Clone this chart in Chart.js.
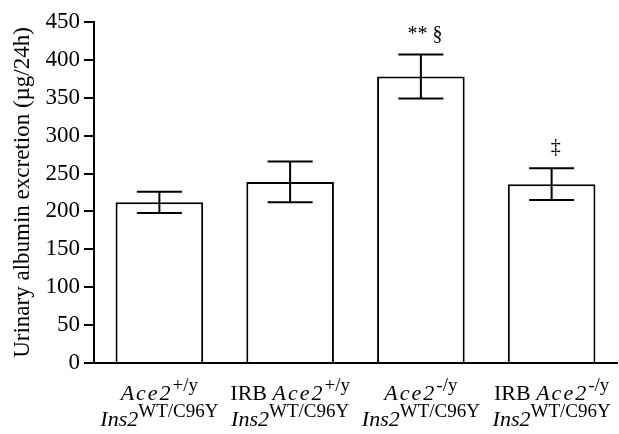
<!DOCTYPE html>
<html>
<head>
<meta charset="utf-8">
<script src="https://cdn.jsdelivr.net/npm/chart.js@4"></script>
<style>
  html, body { margin: 0; padding: 0; background: #fff; }
  #wrap { width: 619px; height: 434px; }
</style>
</head>
<body>
<div id="wrap"><canvas id="albumin"></canvas></div>
<script>
const groups   = ['Ace2 +/y WT', 'IRB Ace2 +/y WT', 'Ace2 -/y WT', 'IRB Ace2 -/y WT'];
const albumin  = [212, 239, 378, 236];
const sem      = [14, 27, 29, 21];
const marks    = ['', '', '** \u00a7', '\u2021'];
const yTicks   = [0, 50, 100, 150, 200, 250, 300, 350, 400, 450];

// each label: two lines of [text, style] pieces (n = normal, i = italic, w = wide italic, s = superscript)
const labelLines = [
    [[['Ace2', 'w'], ['+/y', 's']],                [['Ins2', 'i'], ['WT/C96Y', 's']]],
    [[['IRB ', 'n'], ['Ace2', 'w'], ['+/y', 's']], [['Ins2', 'i'], ['WT/C96Y', 's']]],
    [[['Ace2', 'w'], ['-/y', 's']],                [['Ins2', 'i'], ['WT/C96Y', 's']]],
    [[['IRB ', 'n'], ['Ace2', 'w'], ['-/y', 's']], [['Ins2', 'i'], ['WT/C96Y', 's']]]
];

const serif = "'Liberation Serif', 'Times New Roman', serif";

function setPiece(ctx, style) {
    ctx.letterSpacing = style === 'w' ? '2px' : '0px';
    if (style === 'i' || style === 'w') ctx.font = 'italic 22px ' + serif;
    else if (style === 's') ctx.font = '19px ' + serif;
    else ctx.font = '22px ' + serif;
}

const errorBars = {
    id: 'errorBars',
    afterDatasetsDraw(chart) {
        const ctx = chart.ctx;
        const y = chart.scales.y;
        const meta = chart.getDatasetMeta(0);
        ctx.save();
        ctx.strokeStyle = '#000';
        ctx.lineWidth = 2;
        meta.data.forEach((bar, i) => {
            const top = y.getPixelForValue(albumin[i] + sem[i]);
            const bot = y.getPixelForValue(albumin[i] - sem[i]);
            const half = bar.width * 0.257;
            ctx.beginPath();
            ctx.moveTo(bar.x, top); ctx.lineTo(bar.x, bot);
            ctx.moveTo(bar.x - half, top); ctx.lineTo(bar.x + half, top);
            ctx.moveTo(bar.x - half, bot); ctx.lineTo(bar.x + half, bot);
            ctx.stroke();
            if (marks[i]) {
                ctx.fillStyle = '#000';
                ctx.font = '20px ' + serif;
                ctx.textAlign = 'center';
                ctx.textBaseline = 'alphabetic';
                ctx.fillText(marks[i], bar.x + 4, top - 15);
            }
        });
        ctx.restore();
    }
};

const richLabels = {
    id: 'richLabels',
    afterDraw(chart) {
        const ctx = chart.ctx;
        const x = chart.scales.x;
        const baselines = [400, 426];
        ctx.save();
        ctx.fillStyle = '#000';
        ctx.textBaseline = 'alphabetic';
        ctx.textAlign = 'left';
        labelLines.forEach((lines, i) => {
            const cx = x.getPixelForValue(i);
            lines.forEach((pieces, li) => {
                let w = 0;
                pieces.forEach(p => { setPiece(ctx, p[1]); w += ctx.measureText(p[0]).width; });
                let px = cx - w / 2;
                pieces.forEach(p => {
                    setPiece(ctx, p[1]);
                    ctx.fillText(p[0], px, baselines[li] - (p[1] === 's' ? 9 : 0));
                    px += ctx.measureText(p[0]).width;
                });
            });
        });
        ctx.restore();
    }
};

const ctx = document.getElementById('albumin').getContext('2d');
const albuminChart = new Chart(ctx, {
    type: 'bar',
    data: {
        labels: groups,
        datasets: [{
            data: albumin,
            backgroundColor: '#fff',
            borderColor: '#000',
            borderWidth: 2,
            categoryPercentage: 1,
            barPercentage: 0.67
        }]
    },
    options: {
        responsive: true,
        maintainAspectRatio: false,
        animation: false,
        layout: { padding: { top: 22, right: 2, bottom: 71, left: 0 } },
        plugins: {
            legend: { display: false },
            tooltip: { enabled: false }
        },
        scales: {
            x: {
                ticks: { display: false },
                grid: { display: true, drawOnChartArea: false, drawTicks: false, color: '#000', lineWidth: 2 },
                border: { display: true, color: '#000', width: 2 }
            },
            y: {
                min: 0,
                max: 450,
                afterBuildTicks: (scale) => { scale.ticks = yTicks.map(v => ({ value: v })); },
                afterFit: (scale) => { scale.width = 94; },
                ticks: {
                    color: '#000',
                    padding: 4,
                    font: { family: serif, size: 23 }
                },
                grid: { display: true, drawOnChartArea: false, drawTicks: true, tickLength: 10, color: '#000', lineWidth: 2 },
                border: { display: true, color: '#000', width: 2 },
                title: {
                    display: true,
                    text: 'Urinary albumin excretion (\u00b5g/24h)',
                    color: '#000',
                    padding: { top: 9, bottom: 4 },
                    font: { family: serif, size: 23 }
                }
            }
        }
    },
    plugins: [errorBars, richLabels]
});
</script>
</body>
</html>
